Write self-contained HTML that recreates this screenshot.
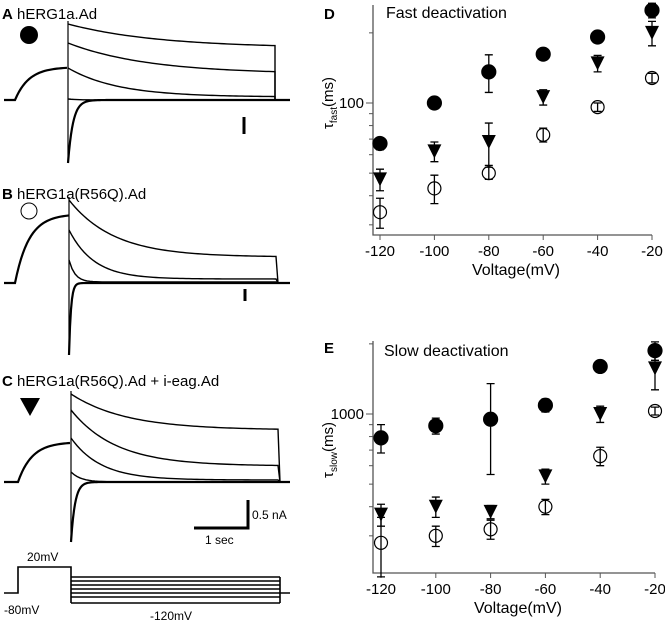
<!DOCTYPE html>
<html><head><meta charset="utf-8"><style>
body{margin:0;background:#fff;width:665px;height:624px;overflow:hidden}
svg{display:block;font-family:"Liberation Sans",Arial,sans-serif}
</style></head><body>
<svg id="fig" width="665" height="624" viewBox="0 0 665 624">
<g id="left" fill="none" stroke="#000"></g>
<g id="panelD"></g>
<g id="panelE"></g>
<g font-size="15">
<text x="2" y="19"><tspan font-weight="bold">A</tspan> hERG1a.Ad</text>
<text x="2" y="199"><tspan font-weight="bold">B</tspan> hERG1a(R56Q).Ad</text>
<text x="2" y="386"><tspan font-weight="bold">C</tspan> hERG1a(R56Q).Ad + i-eag.Ad</text>
<circle cx="29" cy="35" r="9" fill="#000"/>
<circle cx="29" cy="211" r="8" fill="none" stroke="#000"/>
<path d="M20,398 L40,398 L30,416 Z" fill="#000"/>
<text x="324" y="19" font-weight="bold">D</text>
<text x="386" y="18" font-size="16">Fast deactivation</text>
<text x="324" y="353" font-weight="bold">E</text>
<text x="384" y="356" font-size="16">Slow deactivation</text>
</g>
<g font-size="12">
<line x1="244" y1="117" x2="244" y2="134" stroke="#000" stroke-width="3"/>
<line x1="245" y1="289" x2="245" y2="301" stroke="#000" stroke-width="3"/>
<path d="M194,528 L248,528 L248,500" fill="none" stroke="#000" stroke-width="3"/>
<text x="252" y="519">0.5 nA</text>
<text x="205" y="544">1 sec</text>
<text x="27" y="561">20mV</text>
<text x="4" y="614">-80mV</text>
<text x="150" y="620">-120mV</text>
</g>
</svg>
<script>
// ---- chart data ----
const voltages=[-120,-100,-80,-60,-40,-20];
const xTickLabels=["-120","-100","-80","-60","-40","-20"];
const fastFilled=[67,100,136,162,192,250];
const fastFilledErr=[4,4,25,6,6,18];
const fastTri=[47,62,68,106,148,200];
const fastTriErr=[5,6,14,8,12,24];
const fastOpen=[34,43,50,73,96,128];
const fastOpenErr=[5,6,3,5,4,6];
const slowFilled=[790,890,950,1090,1600,1870];
const slowFilledErr=[110,70,400,70,50,170];
const slowTri=[370,400,380,540,1000,1570];
const slowTriErr=[40,40,25,40,80,300];
const slowOpen=[280,300,320,400,660,1030];
const slowOpenErr=[80,30,30,30,60,40];
const fastYTick=[100];
const slowYTick=[1000];

const NS="http://www.w3.org/2000/svg";
function mk(p,t,a){const e=document.createElementNS(NS,t);for(const k in a)e.setAttribute(k,a[k]);p.appendChild(e);return e;}

function chart(g,cfg){
  const xs=v=>cfg.x0+(v+120)*(cfg.x1-cfg.x0)/100;
  const ys=v=>cfg.yRef-Math.log10(v/cfg.ref)*cfg.dec;
  let ax=mk(g,'path',{d:`M${cfg.axX},${cfg.top} L${cfg.axX},${cfg.bot} L${cfg.x1},${cfg.bot}`,fill:'none',stroke:'#555','stroke-width':1.3});
  
  
  voltages.forEach((v,i)=>{
    const x=xs(v);
    mk(g,'line',{x1:x,y1:cfg.bot,x2:x,y2:cfg.bot+5,stroke:'#555'});
    const t=mk(g,'text',{x:x,y:cfg.bot+21,'text-anchor':'middle','font-size':15});
    t.textContent=xTickLabels[i];
    
    
  });
  for(let d=cfg.ref/10;d<=cfg.ref*10;d*=10){for(let m=1;m<10;m++){const y=ys(d*m);if(y>=cfg.top&&y<=cfg.bot){mk(g,'line',{x1:cfg.axX-(m==1?7:4),y1:y,x2:cfg.axX,y2:y,stroke:'#555'});}}}
  cfg.ticks.forEach(v=>{
    const t=mk(g,'text',{x:cfg.axX-9,y:ys(v)+5,'text-anchor':'end','font-size':15});
    t.textContent=String(v);
    
    
  });
  const yl=mk(g,'text',{transform:`translate(${cfg.ylx},${cfg.yly}) rotate(-90)`,'text-anchor':'middle','font-size':15});
  yl.innerHTML=`τ<tspan font-size="10" dy="4">${cfg.sub}</tspan><tspan dy="-4">(ms)</tspan>`;
  
  
  const xl=mk(g,'text',{x:(cfg.x0+cfg.x1)/2,y:cfg.bot+40,'text-anchor':'middle','font-size':16});
  xl.textContent='Voltage(mV)';
  
  
  cfg.series.forEach(s=>{
    s.vals.forEach((v,i)=>{
      const x=xs(voltages[i]),y=ys(v),y1=ys(v+s.err[i]),y2=ys(Math.max(v-s.err[i],1));
      const eb=mk(g,'path',{d:`M${x},${y1} L${x},${y2} M${x-4},${y1} L${x+4},${y1} M${x-4},${y2} L${x+4},${y2}`,stroke:'#000','stroke-width':1.3,fill:'none'});
      
      
      let m;
      if(s.kind==='tri')m=mk(g,'path',{d:`M${x-7},${y-7} L${x+7},${y-7} L${x},${y+7} Z`,fill:'#000'});
      else m=mk(g,'circle',{cx:x,cy:y,r:s.kind==='filled'?7:6.5,fill:s.kind==='filled'?'#000':'#fff',stroke:'#000','stroke-width':1.2,'fill-opacity':s.kind==='open'?0:1});
      
      
    });
  });
}
chart(document.getElementById('panelD'),{x0:380,x1:652,axX:373,top:5,bot:235,yRef:103,ref:100,dec:233,ticks:fastYTick,sub:'fast',ylx:333,yly:103,
  series:[{vals:fastFilled,err:fastFilledErr,kind:'filled',name:'wt'},{vals:fastTri,err:fastTriErr,kind:'tri',name:'r56q-ieag'},{vals:fastOpen,err:fastOpenErr,kind:'open',name:'r56q'}]});
chart(document.getElementById('panelE'),{x0:381,x1:655,axX:373,top:341,bot:573,yRef:414,ref:1000,dec:233,ticks:slowYTick,sub:'slow',ylx:333,yly:450,
  series:[{vals:slowFilled,err:slowFilledErr,kind:'filled',name:'wt'},{vals:slowTri,err:slowTriErr,kind:'tri',name:'r56q-ieag'},{vals:slowOpen,err:slowOpenErr,kind:'open',name:'r56q'}]});

// ---- current traces ----
const L=document.getElementById('left');
function trace(base,preTop,preStart,step,end,curves,spike,tau,name){
  let d=`M4,${base} L${preStart},${base}`;
  for(let x=preStart;x<=step;x+=2){d+=` L${x},${base-(base-preTop)*(1-Math.exp(-(x-preStart)/14))}`;}
  const p=mk(L,'path',{d:d,'stroke-width':2.2});
  
  
  mk(L,'line',{x1:step,y1:Math.min(...curves.map(c=>c[0]))-3,x2:step,y2:spike,'stroke-width':1.2});
  curves.forEach(c=>{
    let dd=`M${step},${c[0]}`;
    for(let x=step;x<=end;x+=3){dd+=` L${x},${c[1]+(c[0]-c[1])*Math.exp(-(x-step)/c[2])}`;}
    dd+=` L${end},${base}`;
    const q=mk(L,'path',{d:dd,'stroke-width':1.4});
    
    
  });
  let sd=`M${step},${spike}`;
  for(let x=step;x<=end;x+=1){sd+=` L${x},${base-(base-spike)*Math.exp(-(x-step)/tau)}`;}
  sd+=` L290,${base}`;
  const s=mk(L,'path',{d:sd,'stroke-width':2.2});
  
  
}
trace(100,67,15,68,275,[[24,48,90],[43,74,80],[68,97,50],[99,100,10]],163,5,'panel-a');
trace(283,214,15,69,278,[[200,257,45],[230,279,25],[260,282,6]],355,2,'panel-b');
trace(482,442,18,71,280,[[394,430,55],[410,466,45],[438,480,30],[472,482,10]],542,4,'panel-c');
let pd='M4,593 L18,593 L18,567 L71,567 L71,603';
[577,581,585,589,593,597,603].forEach(y=>{pd+=` M71,${y} L280,${y}`;});
pd+=' M280,577 L280,603 M280,593 L290,593';
const vp=mk(L,'path',{d:pd,'stroke-width':1.6});


</script>
</body></html>
